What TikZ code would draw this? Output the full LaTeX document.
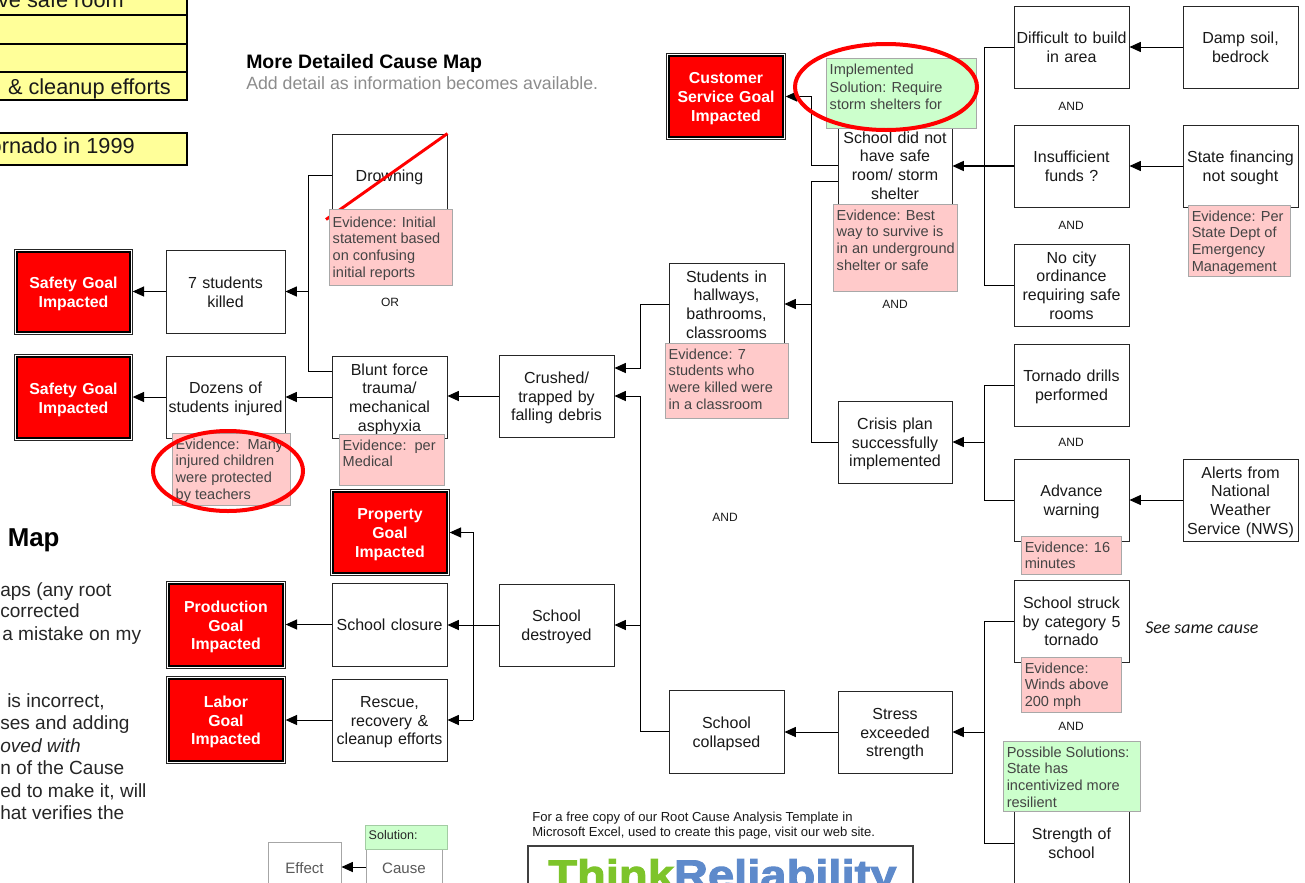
\documentclass[tikz,border=0pt]{standalone}
\usepackage{fontspec}
\setmainfont{Liberation Sans}
\newfontfamily\carlito{Carlito}
\newfontfamily\logofont[FakeStretch=1.14,FakeBold=2.5]{Liberation Sans Bold}
\usetikzlibrary{arrows.meta}
\definecolor{pinkev}{HTML}{FFCACA}
\definecolor{greensol}{HTML}{CCFFCC}
\definecolor{yellowbar}{HTML}{FFFF99}
\definecolor{evtext}{HTML}{444444}
\definecolor{evborder}{HTML}{A8A8A8}
\definecolor{logogreen}{HTML}{7DC42A}
\definecolor{logoblue}{HTML}{5E8ACB}
\newcommand{\bodyfont}{\fontsize{12}{14.05}\selectfont}
\newcommand{\evfont}{\fontsize{10.9}{12.6}\selectfont}
\tikzset{
  causebox/.style={draw=black!85,line width=.7pt,fill=white,inner sep=0pt,align=center,font=\bodyfont,text=black!90},
  mutedbox/.style={causebox,draw=black!35,text=black!65,font=\fontsize{11.3}{13.9}\selectfont},
  goalbox/.style={draw=black,line width=1pt,fill=red,inner sep=0pt,align=center,font=\bfseries\fontsize{11.9}{14.05}\selectfont,text=white},
  goalframe/.style={draw=black!85,line width=.7pt},
  evbox/.style={draw=evborder,line width=.75pt,fill=pinkev,inner sep=0pt,text=evtext,font=\evfont},
  solbox/.style={evbox,fill=greensol},
  barbox/.style={draw=black,line width=1.5pt,fill=yellowbar,inner sep=0pt},
  conn/.style={draw=black,line width=.75pt},
  arr/.style={conn,-{Triangle[length=8.5pt,width=7.5pt]}},
  andlabel/.style={font=\fontsize{9}{11}\selectfont,text=black!90,inner sep=0pt},
  redmark/.style={draw=red,line width=3pt},
  bartext/.style={font=\fontsize{16.3}{18}\selectfont,text=black!90,inner sep=0pt,anchor=base east},
  paratext/.style={font=\fontsize{14.3}{16}\selectfont,text=black!85,inner sep=0pt,anchor=base west},
}
% [style]{name}{x1}{y1}{x2}{y2}{text}
\newcommand{\bx}[7][causebox]{%
  \pgfmathsetmacro{\bxcx}{(#3+#5)/2}\pgfmathsetmacro{\bxcy}{(#4+#6)/2}%
  \pgfmathsetmacro{\bxw}{(#5-#3)*.75}\pgfmathsetmacro{\bxh}{(#6-#4)*.75}%
  \node[#1,minimum width=\bxw pt,minimum height=\bxh pt,text width=\bxw pt] (#2) at (\bxcx,\bxcy) {\rule{0pt}{12.4pt}#7\rule[-3.2pt]{0pt}{3.2pt}};}
% goal: red box with a thin outer frame
\newcommand{\goal}[6]{%
  \bx[goalbox]{#1}{#2}{#3}{#4}{#5}{#6}
  \draw[goalframe] ([shift={(-1.5pt,1.5pt)}]#1.north west) rectangle ([shift={(1.5pt,-1.5pt)}]#1.south east);}
% note box with text from its top left corner
\newcommand{\nt}[7][evbox]{%
  \pgfmathsetmacro{\bxcx}{(#3+#5)/2}\pgfmathsetmacro{\bxcy}{(#4+#6)/2}%
  \pgfmathsetmacro{\bxw}{(#5-#3)*.75}\pgfmathsetmacro{\bxh}{(#6-#4)*.75}%
  \node[#1,minimum width=\bxw pt,minimum height=\bxh pt] (#2) at (\bxcx,\bxcy)
    {\parbox[c][\bxh pt][t]{\bxw pt}{\vspace*{4.2pt}\leftskip=2.8pt\rightskip=0pt plus 1fil\parindent=0pt #7}};}
\begin{document}
\begin{tikzpicture}[x=.75pt,y=-.75pt]
\useasboundingbox (0,0) rectangle (1305,882);
\clip (0,0) rectangle (1305,882);

% yellow bars at the cut left edge
\bx[barbox]{barA}{-20}{-20}{187}{15}{}
\bx[barbox]{barB}{-20}{15}{187}{44}{}
\bx[barbox]{barC}{-20}{44}{187}{72}{}
\bx[barbox]{barD}{-20}{72}{187}{100}{}
\bx[barbox]{barE}{-20}{133}{187}{165}{}
\node[bartext] (barAt) at (124,7) {ve safe room};
\node[bartext] (barDt) at (171,94) {\& cleanup efforts};
\node[bartext] (barEt) at (135,153) {ornado in 1999};

% titles and texts
\node[anchor=base west,inner sep=0pt,font=\bfseries\fontsize{14.6}{16}\selectfont] (titleA) at (246,68.7) {More Detailed Cause Map};
\node[anchor=base west,inner sep=0pt,font=\fontsize{13.3}{15}\selectfont,text=black!45] (titleB) at (246,89) {Add detail as information becomes available.};
\node[anchor=base west,inner sep=0pt,font=\bfseries\fontsize{19.4}{21}\selectfont] (titleC) at (-14,546) {e Map};
\node[paratext] (pA) at (0,596) {aps (any root};
\node[paratext] (pB) at (0,617) {corrected};
\node[paratext] (pC) at (2,640) {a mistake on my};
\node[paratext] (pD) at (7,707) {is incorrect,};
\node[paratext] (pE) at (0,729) {ses and adding};
\node[paratext,font=\itshape\fontsize{14.3}{16}\selectfont] (pF) at (0,752) {oved with};
\node[paratext] (pG) at (0,774) {n of the Cause};
\node[paratext] (pH) at (0,797) {ed to make it, will};
\node[paratext] (pI) at (0,819) {hat verifies the};

% goals
\goal{safetyA}{17}{252}{130}{332}{Safety Goal\\Impacted}
\goal{safetyB}{17}{357}{130}{438}{Safety Goal\\Impacted}
\goal{propertyG}{333}{492}{447}{573}{Property\\Goal\\Impacted}
\goal{productionG}{169}{584}{283}{666}{Production\\Goal\\Impacted}
\goal{laborG}{169}{679}{283}{761}{Labor\\Goal\\Impacted}
\goal{customerG}{669}{56}{783}{137}{Customer\\Service Goal\\Impacted}

% cause boxes
\bx{sevenS}{166}{250}{285}{333}{7 students\\killed}
\bx{dozens}{166}{356}{285}{438}{Dozens of\\students injured}
\bx{drown}{332}{134}{447}{217}{Drowning}
\bx{blunt}{332}{356}{447}{438}{Blunt force\\trauma/\\mechanical\\asphyxia}
\bx{crushed}{499}{355}{614}{437}{Crushed/\\trapped by\\falling debris}
\bx{closure}{332}{583}{447}{666}{School closure}
\bx{rescue}{332}{679}{447}{761}{Rescue,\\recovery \&\\cleanup efforts}
\bx{destroyed}{499}{584}{614}{666}{School\\destroyed}
\bx{collapsed}{669}{690}{784}{773}{School\\collapsed}
\bx{stress}{838}{691}{952}{773}{Stress\\exceeded\\strength}
\bx{hallways}{669}{263}{784}{345}{Students in\\hallways,\\bathrooms,\\classrooms}
\bx{saferoom}{838}{124}{952}{206}{School did not\\have safe\\room/ storm\\shelter}
\bx{crisis}{838}{401}{952}{483}{Crisis plan\\successfully\\implemented}
\bx{difficult}{1014}{6}{1129}{88}{Difficult to build\\in area}
\bx{damp}{1183}{6}{1298}{88}{Damp soil,\\bedrock}
\bx{funds}{1014}{125}{1129}{207}{Insufficient\\funds ?}
\bx{statefin}{1183}{125}{1298}{207}{State financing\\not sought}
\bx{ordinance}{1014}{244}{1129}{326}{No city\\ordinance\\requiring safe\\rooms}
\bx{drills}{1014}{344}{1129}{426}{Tornado drills\\performed}
\bx{advance}{1014}{459}{1129}{541}{Advance\\warning}
\bx{alerts}{1183}{459}{1298}{541}{Alerts from\\National\\Weather\\Service (NWS)}
\bx{struck}{1014}{580}{1129}{662}{School struck\\by category 5\\tornado}
\bx{strengthS}{1014}{802}{1129}{884}{Strength of\\school}
\bx[mutedbox]{effectL}{268}{842}{341}{892}{Effect}
\bx[mutedbox]{causeL}{366}{842}{442}{892}{Cause}

% connectors, right to left
\draw[arr] (damp.west) -- (damp.west -| difficult.east);
\draw[arr] (statefin.west) -- (statefin.west -| funds.east);
\draw[arr] (alerts.west) -- (alerts.west -| advance.east);
\draw[arr,line width=1pt] (funds.west) -- (funds.west -| saferoom.east);
\coordinate (busR) at (984,0);
\draw[conn] (difficult.west) -| (busR |- ordinance.west) -- (ordinance.west);
\draw[arr] (busR |- crisis.east) -- (crisis.east);
\draw[conn] (drills.west) -| (busR |- advance.west) -- (advance.west);
\draw[arr] (busR |- stress.east) -- (stress.east);
\draw[conn] (struck.west) -| (busR |- strengthS.west) -- (strengthS.west);
\coordinate (busM) at (811,0);
\draw[arr] (saferoom.west) -| (busM |- customerG.east) -- ([xshift=1.5pt]customerG.east);
\draw[conn] ([yshift=-12pt]saferoom.west) -| (busM |- crisis.west) -- (crisis.west);
\draw[arr] (busM |- hallways.east) -- (hallways.east);
\draw[arr] (stress.west) -- (stress.west -| collapsed.east);
\coordinate (busC) at (640,0);
\draw[arr] (hallways.west) -| (busC |- 0,368) -- (crushed.east |- 0,368);
\draw[arr] (collapsed.west) -| (busC |- 0,396) -- (crushed.east |- 0,396);
\draw[arr] (busC |- destroyed.east) -- (destroyed.east);
\draw[arr] (crushed.west) -- (crushed.west -| blunt.east);
\draw[arr] (blunt.west) -- (blunt.west -| dozens.east);
\draw[arr] (dozens.west) -- ([xshift=1.5pt]dozens.west -| safetyB.east);
\coordinate (busL) at (308,0);
\draw[conn] (drown.west) -| (busL |- 0,371) -- (blunt.west |- 0,371);
\draw[arr] (busL |- sevenS.east) -- (sevenS.east);
\draw[arr] (sevenS.west) -- ([xshift=1.5pt]sevenS.west -| safetyA.east);
\draw[arr] (destroyed.west) -- (destroyed.west -| closure.east);
\coordinate (busP) at (473,0);
\draw[arr] (busP |- rescue.east) -- (rescue.east);
\draw[arr] (rescue.east -| busP) -- (busP |- propertyG.east) -- ([xshift=1.5pt]propertyG.east);
\draw[arr] (closure.west) -- ([xshift=1.5pt]closure.west -| productionG.east);
\draw[arr] (rescue.west) -- ([xshift=1.5pt]rescue.west -| laborG.east);
\draw[arr] (causeL.west) -- (causeL.west -| effectL.east);

% struck-out drowning
\draw[red,line width=2.2pt] (drown.north east) -- (326,219.5);

% notes
\nt{evDrown}{329}{209}{452}{285}{\vspace*{1.5pt}Evidence: Initial\\statement based\\on confusing\\initial reports}
\nt{evHall}{665}{343}{788}{418}{Evidence: 7\\students who\\were killed were\\in a classroom}
\nt{evSafe}{833}{204}{957}{291}{Evidence: Best\\way to survive is\\in an underground\\shelter or safe}
\nt{evBlunt}{339}{434}{444}{485}{Evidence:\ \ per\\Medical}
\nt{evDoz}{172}{433}{290}{505}{Evidence:\ \ Many\\injured children\\were protected\\by teachers}
\nt{evState}{1188}{205}{1290}{276}{Evidence: Per\\State Dept of\\Emergency\\Management}
\nt{evAdv}{1021}{536}{1121}{574}{Evidence: 16\\minutes}
\nt{evStruck}{1021}{657}{1121}{712}{Evidence:\\Winds above\\200 mph}
\nt[solbox]{solImpl}{826}{58}{976}{128}{Implemented\\[1pt]Solution: Require\\[.6pt]storm shelters for}
\nt[solbox]{solPoss}{1003}{741}{1140}{811}{Possible Solutions:\\State has\\incentivized more\\resilient}
\nt[solbox,draw=greensol!80!black,text=black!85]{solLeg}{365}{825}{447}{849}{\fontsize{9.4}{11}\selectfont Solution:}

% labels
\node[andlabel] (andA) at (1071,106) {AND};
\node[andlabel] (andB) at (1071,225) {AND};
\node[andlabel] (andC) at (1071,442) {AND};
\node[andlabel] (andD) at (1071,726) {AND};
\node[andlabel] (andE) at (895,304) {AND};
\node[andlabel] (andF) at (725,517) {AND};
\node[andlabel] (orA) at (390,302) {OR};
\node[anchor=west,inner sep=0pt,font=\carlito\itshape\fontsize{13.4}{15}\selectfont,text=black!90] (sameC) at (1145,628) {See same cause};

% red circles
\draw[redmark] (228,471) ellipse [x radius=75,y radius=40];
\draw[redmark] (886,87) ellipse [x radius=91,y radius=43];

% template note and logo
\node[anchor=base west,inner sep=0pt,font=\fontsize{9.8}{11}\selectfont,text=black!90] (tmplA) at (532,821) {For a free copy of our Root Cause Analysis Template in};
\node[anchor=base west,inner sep=0pt,font=\fontsize{9.8}{11}\selectfont,text=black!90] (tmplB) at (532,836) {Microsoft Excel, used to create this page, visit our web site.};
\draw[draw=black!75,line width=.9pt,fill=white] (528,846) rectangle (913,900);
\node[anchor=base west,inner sep=0pt,font=\logofont\fontsize{31}{36}\selectfont] (logo) at (548,889) {\textcolor{logogreen}{Think}\textcolor{logoblue}{Reliability}};
\end{tikzpicture}
\end{document}
